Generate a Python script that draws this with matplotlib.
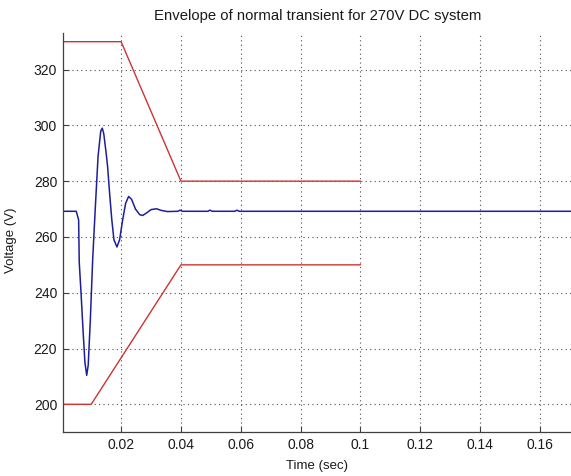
# -*- coding: utf-8 -*-
# Envelope of normal transient for a 270 V DC system (MATLAB-style figure)

import matplotlib
matplotlib.use("Agg")
import matplotlib.pyplot as plt

plt.rcParams["font.family"] = ["Liberation Sans", "DejaVu Sans"]

# =============================================================================
# Data
# =============================================================================

# Upper and lower limits of the transient envelope
upper_time = [0.0, 0.02, 0.04, 0.1]
upper_volt = [330, 330, 280, 280]

lower_time = [0.0, 0.01, 0.04, 0.1]
lower_volt = [200, 200, 250, 250]

# Bus voltage response
resp_time = [
    0.0007, 0.0050, 0.0057, 0.0058, 0.0060, 0.0066, 0.0073, 0.0079,
    0.0085, 0.0090, 0.0097, 0.0105, 0.0113, 0.0123, 0.0132, 0.0137,
    0.0142, 0.0150, 0.0155, 0.0162, 0.0169, 0.0176, 0.0186, 0.0195,
    0.0205, 0.0215, 0.0225, 0.0235, 0.0248, 0.0262, 0.0272, 0.0285,
    0.0300, 0.0318, 0.0335, 0.0355, 0.0390, 0.0397, 0.0405, 0.0490,
    0.0497, 0.0505, 0.0580, 0.0587, 0.0595, 0.1704,
]
resp_volt = [
    269.2, 269.2, 266.5, 266.0, 251.0, 240.0, 226.0, 215.0,
    210.4, 214.0, 230.0, 252.0, 269.0, 289.0, 298.0, 299.0,
    297.0, 290.0, 285.0, 275.0, 266.0, 259.0, 256.4, 259.0,
    266.0, 272.0, 274.5, 273.5, 270.0, 268.0, 267.7, 268.6,
    269.8, 270.1, 269.5, 269.1, 269.2, 269.6, 269.2, 269.2,
    269.6, 269.2, 269.2, 269.6, 269.2, 269.2,
]

x_ticks = [0.02, 0.04, 0.06, 0.08, 0.1, 0.12, 0.14, 0.16]
x_tick_labels = ["0.02", "0.04", "0.06", "0.08", "0.1", "0.12", "0.14", "0.16"]
y_ticks = [200, 220, 240, 260, 280, 300, 320]

# =============================================================================
# Figure
# =============================================================================

fig = plt.figure(figsize=(5.71, 4.76), dpi=100)
ax = fig.add_axes([0.111, 0.092, 0.889, 0.838])

ax.plot(upper_time, upper_volt, color="#cc3333", linewidth=1.0)
ax.plot(lower_time, lower_volt, color="#cc3333", linewidth=1.0)
ax.plot(resp_time, resp_volt, color="#1e1e9a", linewidth=1.1)

ax.set_xlim(0.0007, 0.1704)
ax.set_ylim(190, 333)

ax.set_xticks(x_ticks)
ax.set_xticklabels(x_tick_labels)
ax.set_yticks(y_ticks)

ax.tick_params(direction="in", length=4, width=0.8, color="0.25",
               labelsize=10, labelcolor="0.1", pad=4.5)

ax.grid(True, linestyle=(0, (1, 3)), color="0.3", linewidth=0.8)
ax.set_axisbelow(True)

for side in ["top", "right"]:
    ax.spines[side].set_visible(False)
for side in ["left", "bottom"]:
    ax.spines[side].set_color("0.25")
    ax.spines[side].set_linewidth(0.9)

ax.set_title("Envelope of normal transient for 270V DC system",
             fontsize=10.7, color="0.1", y=1.013)
ax.set_xlabel("Time (sec)", fontsize=9.5, color="0.1")
ax.set_ylabel("Voltage (V)", fontsize=9.5, color="0.1")
ax.xaxis.set_label_coords(0.5, -0.07)
ax.yaxis.set_label_coords(-0.092, 0.482)

fig.savefig("out.png", dpi=100)
